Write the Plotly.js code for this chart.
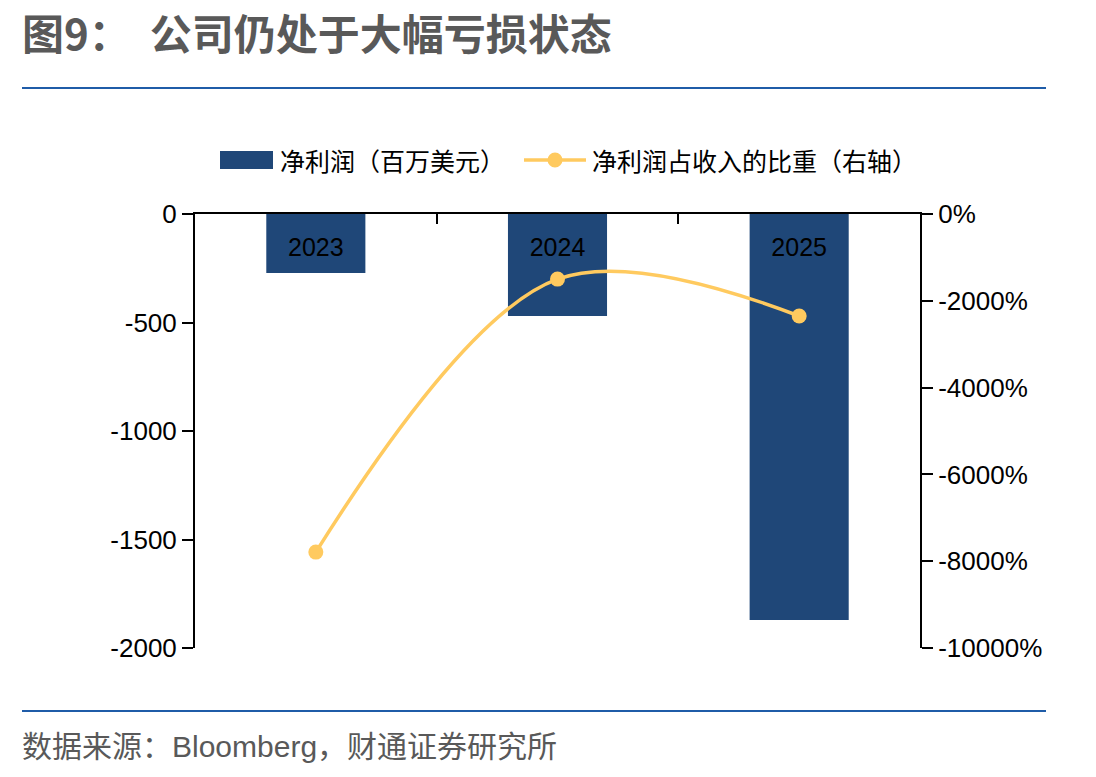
<!DOCTYPE html>
<html>
<head>
<meta charset="utf-8">
<script src="https://cdn.plot.ly/plotly-3.0.1.min.js"></script>
<style>
  html, body { margin: 0; padding: 0; background: #fff; }
  #chart { width: 1096px; height: 777px; }
</style>
</head>
<body>
<div id="chart"></div>
<script>
// Net income (USD mn) and net income as a share of revenue (%)
const years = ['2023', '2024', '2025'];
const netIncome = [-272, -470, -1871];
const netMarginPct = [-7790, -1500, -2350];

const seriesNames = ['净利润（百万美元）', '净利润占收入的比重（右轴）'];
const titleText = '图9：  公司仍处于大幅亏损状态';
const sourceText = '数据来源：Bloomberg，财通证券研究所';

const leftTicks = [0, -500, -1000, -1500, -2000];
const rightTicks = [0, -2000, -4000, -6000, -8000, -10000];

const BAR_COLOR = '#1f4778';
const LINE_COLOR = '#ffca5f';
const RULE_COLOR = '#1f5ca8';
const FONT = '"Liberation Sans", Arial, "Noto Sans CJK SC", sans-serif';
const CJK_FONT = '"Noto Sans CJK SC", "Liberation Sans", sans-serif';

// plot area in page pixels, used to place decorations in paper coords
const L = 195, R = 920, T = 214, B = 648;
const px = x => (x - L) / (R - L);
const py = y => (B - y) / (B - T);

const traces = [
  {
    type: 'bar',
    x: years,
    y: netIncome,
    name: seriesNames[0],
    marker: { color: BAR_COLOR },
    width: 0.41,
    xaxis: 'x',
    yaxis: 'y',
    hoverinfo: 'x+y'
  },
  {
    type: 'scatter',
    mode: 'lines+markers',
    x: years,
    y: netMarginPct,
    name: seriesNames[1],
    line: { color: LINE_COLOR, width: 3.5, shape: 'spline', smoothing: 1 },
    marker: { color: LINE_COLOR, size: 15 },
    xaxis: 'x2',
    yaxis: 'y2',
    cliponaxis: false
  }
];

const axisLine = {
  showline: true,
  linecolor: '#000000',
  linewidth: 2,
  tickwidth: 2,
  tickcolor: '#000000',
  showgrid: false,
  zeroline: false
};

const layout = {
  width: 1096,
  height: 777,
  margin: { l: L, r: 1096 - R, t: T, b: 777 - B, pad: 0 },
  paper_bgcolor: '#ffffff',
  plot_bgcolor: '#ffffff',
  showlegend: false,
  font: { family: FONT, size: 25, color: '#000000' },
  // category axis line along the zero line, boundary ticks pointing down
  xaxis: Object.assign({}, axisLine, {
    type: 'category',
    side: 'top',
    range: [-0.5, 2.5],
    ticks: 'inside',
    tickson: 'boundaries',
    ticklen: 10,
    showticklabels: false
  }),
  // year labels sitting just under the zero line
  xaxis2: {
    type: 'category',
    overlaying: 'x',
    anchor: 'free',
    side: 'bottom',
    position: py(230),
    range: [-0.5, 2.5],
    showline: false,
    ticks: '',
    showgrid: false,
    zeroline: false,
    tickfont: { family: FONT, size: 25, color: '#000000' }
  },
  yaxis: Object.assign({}, axisLine, {
    range: [-2000, 0],
    tickvals: leftTicks,
    ticktext: leftTicks.map(String),
    ticks: 'outside',
    ticklen: 11,
    tickfont: { family: FONT, size: 26, color: '#000000' }
  }),
  yaxis2: Object.assign({}, axisLine, {
    overlaying: 'y',
    anchor: 'x',
    side: 'right',
    range: [-10000, 0],
    tickvals: rightTicks,
    ticktext: rightTicks.map(v => v + '%'),
    ticks: 'outside',
    ticklen: 11,
    tickfont: { family: FONT, size: 26, color: '#000000' }
  }),
  shapes: [
    // horizontal rules above and below the chart
    { type: 'line', xref: 'paper', yref: 'paper', x0: px(22), x1: px(1046), y0: py(88), y1: py(88),
      line: { color: RULE_COLOR, width: 2 } },
    { type: 'line', xref: 'paper', yref: 'paper', x0: px(22), x1: px(1046), y0: py(711), y1: py(711),
      line: { color: RULE_COLOR, width: 2 } },
    // legend swatch: bars
    { type: 'rect', xref: 'paper', yref: 'paper', x0: px(220), x1: px(273), y0: py(169), y1: py(151),
      fillcolor: BAR_COLOR, line: { width: 0 } },
    // legend swatch: line with marker
    { type: 'line', xref: 'paper', yref: 'paper', x0: px(524), x1: px(586), y0: py(160), y1: py(160),
      line: { color: LINE_COLOR, width: 3.5 } },
    { type: 'circle', xref: 'paper', yref: 'paper', xsizemode: 'pixel', ysizemode: 'pixel',
      xanchor: px(555), yanchor: py(160), x0: -7.5, x1: 7.5, y0: -7.5, y1: 7.5,
      fillcolor: LINE_COLOR, line: { width: 0 } }
  ],
  annotations: [
    { text: titleText, xref: 'paper', yref: 'paper', x: px(20), y: py(31), xanchor: 'left', yanchor: 'middle',
      showarrow: false, font: { family: CJK_FONT, size: 42, color: '#595959', weight: 'bold' } },
    { text: seriesNames[0], xref: 'paper', yref: 'paper', x: px(278), y: py(160), xanchor: 'left', yanchor: 'middle',
      showarrow: false, font: { family: CJK_FONT, size: 25, color: '#000000' } },
    { text: seriesNames[1], xref: 'paper', yref: 'paper', x: px(590), y: py(160), xanchor: 'left', yanchor: 'middle',
      showarrow: false, font: { family: CJK_FONT, size: 25, color: '#000000' } },
    { text: sourceText, xref: 'paper', yref: 'paper', x: px(20), y: py(746), xanchor: 'left', yanchor: 'middle',
      showarrow: false, font: { family: FONT, size: 30, color: '#595959' } }
  ]
};

Plotly.newPlot('chart', traces, layout, { displayModeBar: false, staticPlot: true });
</script>
</body>
</html>
